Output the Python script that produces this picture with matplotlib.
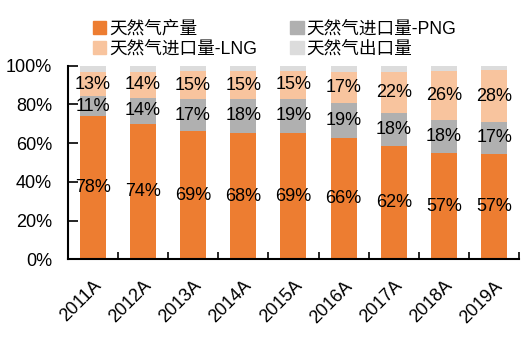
import numpy as np
import matplotlib.pyplot as plt
from matplotlib.patches import Patch

plt.rcParams['font.family'] = ['Liberation Sans', 'Noto Sans CJK SC', 'DejaVu Sans']

# 데이터
years = ['2011A', '2012A', '2013A', '2014A', '2015A', '2016A', '2017A', '2018A', '2019A']
prod = [78, 74, 69, 68, 69, 66, 62, 57, 57]      # 天然气产量
png = [11, 14, 17, 18, 19, 19, 18, 18, 17]       # 进口量-PNG
lng = [13, 14, 15, 15, 15, 17, 22, 26, 28]       # 进口量-LNG
export = [3.5, 3.5, 3, 3, 3, 3.5, 3.5, 3, 2.5]   # 出口量 (label 없음)

names = ['天然气产量', '天然气进口量-PNG', '天然气进口量-LNG', '天然气出口量']
colors = ['#ED7D31', '#B0B0B0', '#F8C49E', '#DCDCDC']

# 100% 누적 막대로 정규화
raw = np.array([prod, png, lng, export], dtype=float)
share = raw / raw.sum(axis=0)

fig = plt.figure(figsize=(5.3, 3.38), dpi=100)
ax = fig.add_axes([0.1274, 0.2328, 0.8524, 0.5728])

x = np.arange(len(years))
bottom = np.zeros(len(years))
for i in range(4):
    ax.bar(x, share[i], 0.52, bottom=bottom, color=colors[i], label=names[i])
    if i < 3:
        for j in range(len(years)):
            ax.text(x[j], bottom[j] + share[i][j] / 2, f'{raw[i][j]:.0f}%',
                    ha='center', va='center', fontsize=13, color='black')
    bottom += share[i]

ax.set_xlim(-0.5, len(years) - 0.5)
ax.set_ylim(0, 1)
ax.set_yticks(np.arange(0, 1.01, 0.2))
ax.set_yticklabels([f'{int(v * 100)}%' for v in np.arange(0, 1.01, 0.2)], fontsize=13)

# x축 눈금은 카테고리 경계에
ax.set_xticks(np.arange(-0.5, len(years), 1))
ax.set_xticklabels([])
ax.set_xticks(x, minor=True)
ax.set_xticklabels(years, minor=True, rotation=45, ha='right', rotation_mode='anchor', fontsize=13)
ax.tick_params(axis='x', which='major', direction='in', length=5, width=1.2)
ax.tick_params(axis='x', which='minor', length=0, pad=13)
ax.tick_params(axis='y', direction='in', length=7, width=1.2, pad=11)

for s in ['top', 'right']:
    ax.spines[s].set_visible(False)
for s in ['left', 'bottom']:
    ax.spines[s].set_linewidth(1.5)

# 범례 (2열)
h = [Patch(color=c) for c in colors]
order = [0, 2, 1, 3]
fig.legend([h[k] for k in order], [names[k] for k in order], ncol=2,
           loc='upper left', bbox_to_anchor=(0.159, 0.965), frameon=False,
           fontsize=12.7, handlelength=0.75, handleheight=0.75,
           handletextpad=0.15, columnspacing=1.9, labelspacing=0.15, borderpad=0)

fig.savefig('out.png', dpi=100)
